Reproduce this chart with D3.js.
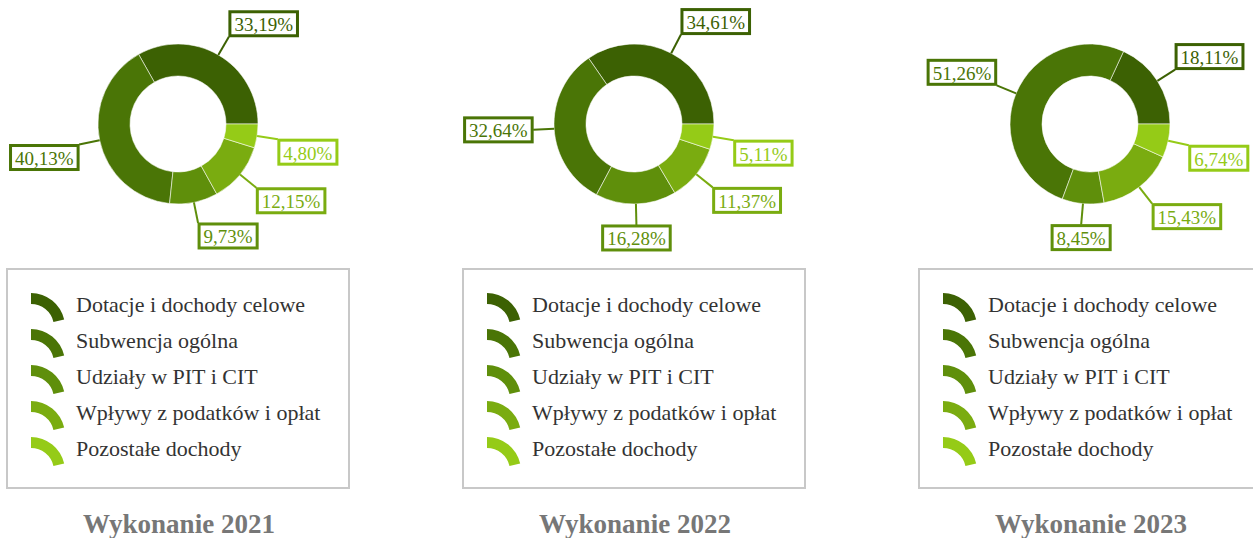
<!DOCTYPE html>
<html>
<head>
<meta charset="utf-8">
<script src="https://cdn.jsdelivr.net/npm/d3@7"></script>
<style>
  body { margin: 0; background: #fff; }
  svg { display: block; font-family: "Liberation Serif", "Times New Roman", serif; }
</style>
</head>
<body>
<div class="Donut-Charts"></div>
<script>
// Data
const categories = ["Dotacje i dochody celowe", "Subwencja ogólna", "Udziały w PIT i CIT", "Wpływy z podatków i opłat", "Pozostałe dochody"];
const years = ["Wykonanie 2021", "Wykonanie 2022", "Wykonanie 2023"];
const values2021 = [33.19, 40.13, 9.73, 12.15, 4.80];
const values2022 = [34.61, 32.64, 16.28, 11.37, 5.11];
const values2023 = [18.11, 51.26, 8.45, 15.43, 6.74];
const colors = ["#3c6103", "#4a7506", "#5f8f0b", "#7aac10", "#95cb17"];

const series = [values2021, values2022, values2023];

// Size of the page
const width = 1253;
const height = 538;
const panelWidth = 456;
const firstCx = 178;
const cy = 124;
const outerR = 80;
const innerR = 48;
const labelR = 101;

const svg = d3.select(".Donut-Charts")
  .append("svg")
  .attr("width", width)
  .attr("height", height);

const color = d3.scaleOrdinal().domain(categories).range(colors);
const fmt = v => d3.format(".2f")(v).replace(".", ",") + "%";

// Pie starts at 3 o'clock and runs anticlockwise
const pie = d3.pie()
  .sort(null)
  .startAngle(Math.PI / 2)
  .endAngle(Math.PI / 2 - 2 * Math.PI);

const arc = d3.arc().innerRadius(innerR).outerRadius(outerR);

series.forEach(function(values, i) {
  const cx = firstCx + i * panelWidth;
  const data = categories.map((c, j) => ({ name: c, value: values[j] }));
  const g = svg.append("g").attr("transform", `translate(${cx}, ${cy})`);

  g.selectAll("path.slice")
    .data(pie.value(d => d.value)(data))
    .join("path")
    .attr("class", "slice")
    .attr("d", arc)
    .attr("fill", d => color(d.data.name))
    .attr("stroke", "rgba(255,255,255,0.55)")
    .attr("stroke-width", 1);

  // Labels with connectors
  pie.value(d => d.value)(data).forEach(function(d) {
    const a = (d.startAngle + d.endAngle) / 2;
    const s = Math.sin(a), c = -Math.cos(a);
    const x0 = outerR * s, y0 = outerR * c;
    const x1 = labelR * s, y1 = labelR * c;
    const col = color(d.data.name);

    g.append("line")
      .attr("x1", x0).attr("y1", y0)
      .attr("x2", x1).attr("y2", y1)
      .attr("stroke", col)
      .attr("stroke-width", 2);

    const lab = g.append("g");
    const rect = lab.append("rect");
    const txt = lab.append("text")
      .attr("font-size", 19)
      .attr("fill", col)
      .attr("text-anchor", "middle")
      .attr("dominant-baseline", "central")
      .text(fmt(d.data.value));

    const w = txt.node().getComputedTextLength() + 9;
    const h = 24;
    const ox = Math.abs(s) < 0.12 ? 0 : Math.sign(s);
    const oy = Math.abs(c) < 0.12 ? 0 : Math.sign(c);
    const bx = x1 + ox * (w / 2 + 1);
    const by = y1 + oy * (h / 2 + 1);

    rect.attr("x", bx - w / 2).attr("y", by - h / 2)
      .attr("width", w).attr("height", h)
      .attr("fill", "#fff")
      .attr("stroke", col)
      .attr("stroke-width", 3);
    txt.attr("x", bx).attr("y", by + 1);
  });

  // Legend box
  const lx = cx - 171;
  const legend = svg.append("g").attr("transform", `translate(${lx}, 269)`);
  legend.append("rect")
    .attr("width", 342).attr("height", 219)
    .attr("fill", "#fff")
    .attr("stroke", "#c8c8c8")
    .attr("stroke-width", 2);

  const symbol = d3.arc().innerRadius(23).outerRadius(34).startAngle(0).endAngle(1.35);
  categories.forEach(function(name, j) {
    const row = legend.append("g").attr("transform", `translate(24, ${24 + j * 36})`);
    row.append("path")
      .attr("d", symbol)
      .attr("transform", "translate(0, 34)")
      .attr("fill", color(name));
    row.append("text")
      .attr("x", 45)
      .attr("y", 19)
      .attr("font-size", 22)
      .attr("fill", "#333")
      .text(name);
  });

  // Title
  svg.append("text")
    .attr("x", cx + 1)
    .attr("y", 533)
    .attr("text-anchor", "middle")
    .attr("font-size", 27)
    .attr("font-weight", "bold")
    .attr("fill", "#777")
    .text(years[i]);
});
</script>
</body>
</html>
